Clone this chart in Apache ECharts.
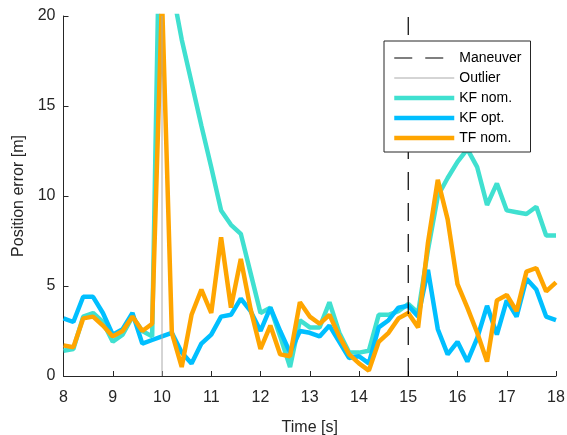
<!DOCTYPE html>
<html>
<head>
<meta charset="utf-8">
<script src="https://cdn.jsdelivr.net/npm/echarts@6.0.0/dist/echarts.min.js"></script>
<style>
  html, body { margin: 0; padding: 0; background: #fff; }
  #chart { width: 567px; height: 435px; }
</style>
</head>
<body>
<div id="chart"></div>
<script>
// time stamps [s]
var time = [8.0, 8.2, 8.4, 8.6, 8.8, 9.0, 9.2, 9.4, 9.6, 9.8,
            10.0, 10.2, 10.4, 10.6, 10.8, 11.0, 11.2, 11.4, 11.6, 11.8,
            12.0, 12.2, 12.4, 12.6, 12.8, 13.0, 13.2, 13.4, 13.6, 13.8,
            14.0, 14.2, 14.4, 14.6, 14.8, 15.0, 15.2, 15.4, 15.6, 15.8,
            16.0, 16.2, 16.4, 16.6, 16.8, 17.0, 17.2, 17.4, 17.6, 17.8, 18.0];

// position error [m]
var kfNom = [1.4, 1.5, 3.3, 3.5, 3.0, 1.9, 2.3, 3.3, 2.5, 2.2,
             33, 21.6, 18.7, 16.3, 13.9, 11.6, 9.2, 8.4, 7.9, 5.7,
             3.5, 3.8, 2.2, 0.5, 3.1, 2.7, 2.7, 4.1, 2.4, 1.3,
             1.3, 1.4, 3.4, 3.4, 3.6, 4.0, 3.5, 7.0, 10.0, 11.0,
             11.9, 12.6, 11.6, 9.5, 10.7, 9.2, 9.1, 9.0, 9.4, 7.8, 7.8];
var kfOpt = [3.2, 3.0, 4.4, 4.4, 3.5, 2.3, 2.6, 3.5, 1.8, 2.0,
             2.2, 2.4, 1.3, 0.7, 1.8, 2.3, 3.3, 3.4, 4.3, 3.6,
             2.5, 3.8, 2.5, 1.3, 2.5, 2.4, 2.2, 2.8, 1.9, 1.0,
             1.1, 0.7, 2.7, 3.1, 3.8, 3.9, 3.3, 5.9, 2.6, 1.2,
             1.9, 0.8, 2.1, 3.9, 2.3, 4.2, 3.3, 5.4, 4.8, 3.3, 3.1];
var tfNom = [1.7, 1.6, 3.2, 3.3, 2.8, 2.2, 2.5, 3.3, 2.5, 2.9,
             21, 2.4, 0.5, 3.4, 4.8, 3.5, 7.7, 3.8, 6.5, 3.7,
             1.5, 2.8, 1.2, 1.1, 4.1, 3.3, 2.9, 3.4, 2.2, 1.2,
             0.7, 0.3, 1.9, 2.4, 3.2, 3.5, 2.7, 7.4, 10.9, 8.7,
             5.1, 3.8, 2.4, 0.8, 4.2, 4.5, 3.6, 5.8, 6.0, 4.7, 5.2];

// event markers
var maneuverTime = 15;
var outlierTime = 10;
var yRange = [0, 20];

function pairs(ys) {
    return time.map(function (t, i) { return [t, ys[i]]; });
}
function vline(x) {
    return yRange.map(function (y) { return [x, y]; });
}

var axisColor = '#262626';
var font = '"Liberation Sans", Arial, Helvetica, sans-serif';
var thick = 4.5;

var chart = echarts.init(document.getElementById('chart'));
chart.setOption({
    animation: false,
    backgroundColor: '#fff',
    textStyle: { fontFamily: font },
    grid: { left: 63.5, right: 11, top: 16, bottom: 59, containLabel: false, outerBoundsMode: 'none' },
    legend: {
        data: [
            { name: 'Maneuver', lineStyle: { width: 1.2 } },
            { name: 'Outlier', lineStyle: { width: 1 } },
            { name: 'KF nom.', lineStyle: { width: thick } },
            { name: 'KF opt.', lineStyle: { width: thick } },
            { name: 'TF nom.', lineStyle: { width: thick } }
        ],
        orient: 'vertical',
        left: 384,
        top: 41,
        padding: [10, 9, 7, 8],
        itemGap: 6,
        itemWidth: 60,
        itemHeight: 14,
        // hide the marker dot, keep only the line
        itemStyle: { opacity: 0 },
        backgroundColor: '#fff',
        borderColor: axisColor,
        borderWidth: 1,
        borderRadius: 0,
        textStyle: { fontSize: 14, color: '#000', fontFamily: font }
    },
    xAxis: {
        type: 'value',
        min: 8,
        max: 18,
        interval: 1,
        name: 'Time [s]',
        nameLocation: 'middle',
        nameGap: 44,
        nameTextStyle: { fontSize: 16, color: axisColor },
        axisLine: { onZero: false, lineStyle: { color: axisColor, width: 1 } },
        axisTick: { inside: true, length: 5, lineStyle: { color: axisColor } },
        axisLabel: { fontSize: 16, color: axisColor, margin: 14 },
        splitLine: { show: false }
    },
    yAxis: {
        type: 'value',
        min: 0,
        max: 20,
        interval: 5,
        name: 'Position error [m]',
        nameLocation: 'middle',
        nameGap: 29,
        nameTextStyle: { fontSize: 16, color: axisColor },
        axisLine: { show: true, lineStyle: { color: axisColor, width: 1 } },
        axisTick: { show: true, inside: true, length: 5, lineStyle: { color: axisColor } },
        axisLabel: { fontSize: 16, color: axisColor, margin: 8 },
        splitLine: { show: false }
    },
    series: [
        {
            name: 'KF nom.', type: 'line', data: pairs(kfNom),
            symbol: 'none', clip: true,
            lineStyle: { color: '#40E0D0', width: thick }, itemStyle: { color: '#40E0D0' }
        },
        {
            name: 'KF opt.', type: 'line', data: pairs(kfOpt),
            symbol: 'none', clip: true,
            lineStyle: { color: '#00BFFF', width: thick }, itemStyle: { color: '#00BFFF' }
        },
        {
            name: 'TF nom.', type: 'line', data: pairs(tfNom),
            symbol: 'none', clip: true,
            lineStyle: { color: '#FFA500', width: thick }, itemStyle: { color: '#FFA500' }
        },
        {
            name: 'Maneuver', type: 'line', data: vline(maneuverTime),
            symbol: 'none',
            lineStyle: { color: '#000', width: 1.2, type: [18, 13] }, itemStyle: { color: '#000' }
        },
        {
            name: 'Outlier', type: 'line', data: vline(outlierTime),
            symbol: 'none',
            lineStyle: { color: '#aaaaaa', width: 1 }, itemStyle: { color: '#aaaaaa' }
        }
    ]
});
</script>
</body>
</html>
